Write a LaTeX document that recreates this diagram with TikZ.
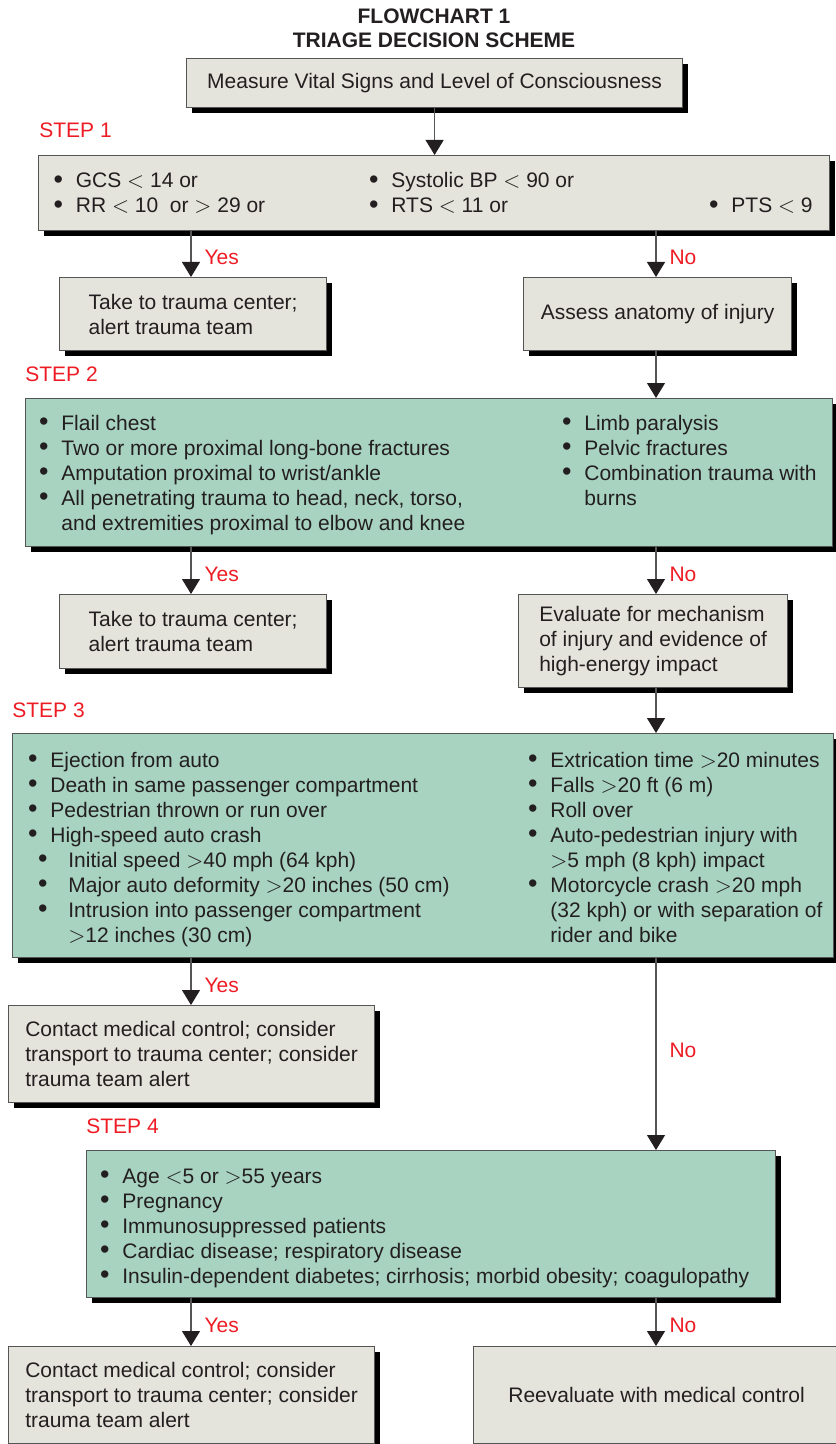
\documentclass[tikz,border=0pt]{standalone}
\usepackage{fontspec}
\setmainfont{Liberation Sans}
\usepackage{tikz}
\usetikzlibrary{arrows.meta, positioning, shadows}
\definecolor{mydark}{RGB}{35,31,32}
\definecolor{myedge}{RGB}{85,85,85}
\definecolor{myred}{RGB}{237,28,36}
\definecolor{boxgray}{RGB}{228,228,220}
\definecolor{boxteal}{RGB}{168,211,193}
\newcommand{\bodyfont}{\fontsize{10.5}{12.5}\selectfont}
\newcommand{\bigdot}{\raisebox{-0.4pt}{\fontsize{13.5}{12.5}\selectfont\textbullet}}
\newcommand{\bul}{\makebox[10.5pt][l]{\hspace*{-0.6pt}\bigdot}}
\newcommand{\subbul}{\hspace*{5pt}\makebox[14.5pt][l]{\hspace*{-0.6pt}\bigdot}}
\newcommand{\ind}{\hspace*{10.5pt}}
\tikzset{
  box/.style={rectangle, draw=myedge, fill=boxgray, line width=0.6pt,
    anchor=north west, inner sep=0pt, font=\bodyfont, text=mydark,
    drop shadow={shadow xshift=2.7pt, shadow yshift=-2.7pt, opacity=1, fill=black}},
  tealbox/.style={box, fill=boxteal},
  cols/.style={anchor=base west, inner sep=0pt, align=left, font=\bodyfont, text=mydark},
  steplabel/.style={anchor=base west, inner sep=0pt, font=\bodyfont, text=myred},
  ans/.style={anchor=west, inner sep=0pt, xshift=6.5pt, font=\bodyfont, text=myred},
  arrow/.style={-{Triangle[width=9pt, length=7.5pt, color=mydark]}, line width=0.55pt, color=myedge}
}

\begin{document}
\begin{tikzpicture}[x=0.5pt, y=-0.5pt]
  \useasboundingbox (0,0) rectangle (835,1444);

  \node[anchor=base, align=center, inner sep=0pt, text=mydark,
    font=\bfseries\fontsize{10.5}{12}\selectfont] (title) at (434,48)
    {FLOWCHART 1\\TRIAGE DECISION SCHEME};

  \node[box, minimum width=248pt, minimum height=24.5pt] (vital) at (186,58)
    {Measure Vital Signs and Level of Consciousness};

  \node[steplabel] (step1) at (39,138) {STEP 1};
  \node[box, minimum width=395.5pt, minimum height=37.5pt] (crit1) at (38,155) {};
  \node[cols] (crit1a) at (54.5,213) {\bul GCS $<$ 14 or\\\bul RR $<$ 10 \ or $>$ 29 or};
  \node[cols] (crit1b) at (370,213) {\bul Systolic BP $<$ 90 or\\\bul RTS $<$ 11 or};
  \node[cols] (crit1c) at (710,213) {\bul PTS $<$ 9};

  \node[box, minimum width=133.5pt, minimum height=36.5pt, align=left] (yes1) at (59,277)
    {Take to trauma center;\\alert trauma team};
  \node[box, minimum width=134pt, minimum height=36.5pt] (no1) at (523,277)
    {Assess anatomy of injury};

  \node[steplabel] (step2) at (25,381) {STEP 2};
  \node[tealbox, minimum width=403.5pt, minimum height=74pt] (crit2) at (25,398) {};
  \node[cols] (crit2a) at (40,530) {\bul Flail chest\\
    \bul Two or more proximal long-bone fractures\\
    \bul Amputation proximal to wrist/ankle\\
    \bul All penetrating trauma to head, neck, torso,\\
    \ind and extremities proximal to elbow and knee};
  \node[cols] (crit2b) at (563,505) {\bul Limb paralysis\\
    \bul Pelvic fractures\\
    \bul Combination trauma with\\
    \ind burns};

  \node[box, minimum width=133.5pt, minimum height=37pt, align=left] (yes2) at (59,594)
    {Take to trauma center;\\alert trauma team};
  \node[box, minimum width=134.5pt, minimum height=46.5pt, align=left] (no2) at (518,594)
    {Evaluate for mechanism\\of injury and evidence of\\high-energy impact};

  \node[steplabel] (step3) at (12,717) {STEP 3};
  \node[tealbox, minimum width=410.5pt, minimum height=112pt] (crit3) at (12,733) {};
  \node[cols] (crit3a) at (29,942) {\bul Ejection from auto\\
    \bul Death in same passenger compartment\\
    \bul Pedestrian thrown or run over\\
    \bul High-speed auto crash\\
    \subbul Initial speed $>$40 mph (64 kph)\\
    \subbul Major auto deformity $>$20 inches (50 cm)\\
    \subbul Intrusion into passenger compartment\\
    \hspace*{19.5pt}$>$12 inches (30 cm)};
  \node[cols] (crit3b) at (529,942) {\bul Extrication time $>$20 minutes\\
    \bul Falls $>$20 ft (6 m)\\
    \bul Roll over\\
    \bul Auto-pedestrian injury with\\
    \ind $>$5 mph (8 kph) impact\\
    \bul Motorcycle crash $>$20 mph\\
    \ind (32 kph) or with separation of\\
    \ind rider and bike};

  \node[box, minimum width=183pt, minimum height=48.5pt, align=left] (yes3) at (8,1005)
    {Contact medical control; consider\\transport to trauma center; consider\\trauma team alert};

  \node[steplabel] (step4) at (86,1133) {STEP 4};
  \node[tealbox, minimum width=344.5pt, minimum height=73.5pt] (crit4) at (86,1150) {};
  \node[cols] (crit4a) at (101,1283) {\bul Age $<$5 or $>$55 years\\
    \bul Pregnancy\\
    \bul Immunosuppressed patients\\
    \bul Cardiac disease; respiratory disease\\
    \bul Insulin-dependent diabetes; cirrhosis; morbid obesity; coagulopathy};

  \node[box, minimum width=183pt, minimum height=48.5pt, align=left] (yes4) at (8,1346)
    {Contact medical control; consider\\transport to trauma center; consider\\trauma team alert};
  \node[box, minimum width=183pt, minimum height=48.5pt] (no4) at (473,1346)
    {Reevaluate with medical control};

  \coordinate (ycol) at (191,0);
  \coordinate (ncol) at (656,0);

  \draw[arrow] (vital.south) -- (vital.south |- crit1.north);
  \draw[arrow] (crit1.south -| ycol) -- (yes1.north -| ycol) node[ans, pos=0.57] {Yes};
  \draw[arrow] (crit1.south -| ncol) -- (no1.north -| ncol) node[ans, pos=0.57] {No};
  \draw[arrow] (no1.south -| ncol) -- (crit2.north -| ncol);
  \draw[arrow] (crit2.south -| ycol) -- (yes2.north -| ycol) node[ans, pos=0.57] {Yes};
  \draw[arrow] (crit2.south -| ncol) -- (no2.north -| ncol) node[ans, pos=0.57] {No};
  \draw[arrow] (no2.south -| ncol) -- (crit3.north -| ncol);
  \draw[arrow] (crit3.south -| ycol) -- (yes3.north -| ycol) node[ans, pos=0.57] {Yes};
  \draw[arrow] (crit3.south -| ncol) -- (crit4.north -| ncol) node[ans, pos=0.48] {No};
  \draw[arrow] (crit4.south -| ycol) -- (yes4.north -| ycol) node[ans, pos=0.57] {Yes};
  \draw[arrow] (crit4.south -| ncol) -- (no4.north -| ncol) node[ans, pos=0.57] {No};
\end{tikzpicture}
\end{document}
